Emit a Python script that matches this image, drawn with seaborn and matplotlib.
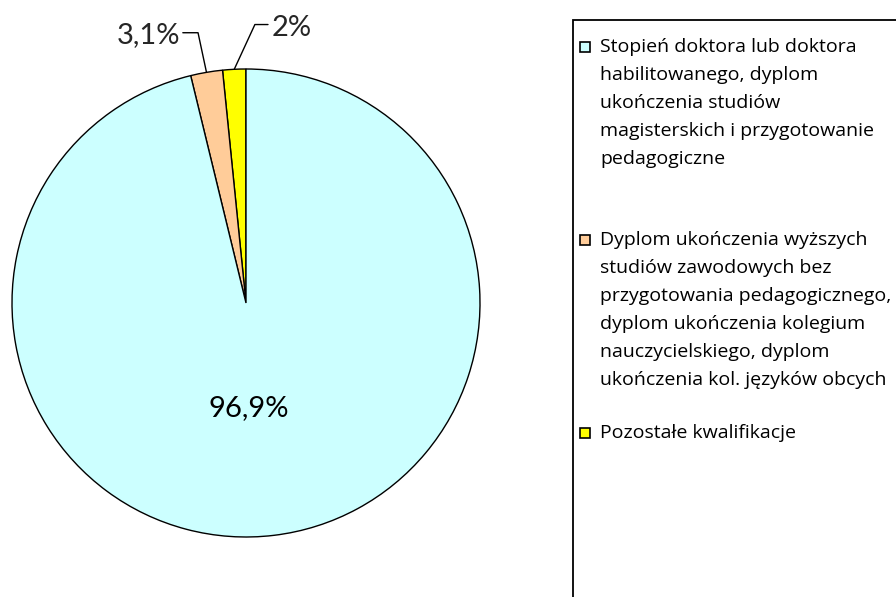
import numpy as np
import matplotlib
matplotlib.use("Agg")
import matplotlib.pyplot as plt
import seaborn as sns
from matplotlib.patches import Rectangle

# dane wykresu
categories = [
    "Stopień doktora lub doktora\nhabilitowanego, dyplom\nukończenia studiów\nmagisterskich i przygotowanie\npedagogiczne",
    "Dyplom ukończenia wyższych\nstudiów zawodowych bez\nprzygotowania pedagogicznego,\ndyplom ukończenia kolegium\nnauczycielskiego, dyplom\nukończenia kol. języków obcych",
    "Pozostałe kwalifikacje",
]
shares = [96.2, 2.2, 1.6]
value_labels = ["96,9%", "3,1%", "2%"]
colors = ["#CCFFFF", "#FFCC99", "#FFFF00"]

sns.set_theme(style="white")
plt.rcParams["font.family"] = ["Lato", "DejaVu Sans"]

W, H = 896, 597
fig = plt.figure(figsize=(W / 100, H / 100), dpi=100)
fig.patch.set_facecolor("white")

# koło: środek (246, 303), promień 234 px
cx, cy, r = 246, 303, 234
ax = fig.add_axes([(cx - r) / W, (H - cy - r) / H, 2 * r / W, 2 * r / H])

# wycinki rysowane przeciwnie do zegara od godziny 12: żółty, pomarańczowy, błękitny
wedges, _ = ax.pie(shares[::-1], colors=colors[::-1], startangle=90,
                   counterclock=True, radius=1,
                   wedgeprops=dict(edgecolor="black", linewidth=1.0))
wedges = wedges[::-1]
ax.set_xlim(-1, 1)
ax.set_ylim(-1, 1)
ax.axis("off")


def anchor(w):
    a = np.deg2rad((w.theta1 + w.theta2) / 2)
    return np.cos(a), np.sin(a)


lab_size = 21
ax.text(0.013, -0.45, value_labels[0], ha="center", va="center", fontsize=lab_size, color="black")

# etykieta 3,1% z linią odniesienia
x0, y0 = anchor(wedges[1])
ax.plot([x0, -0.205, -0.27], [y0, 1.155, 1.155], color="black", lw=1.0, clip_on=False)
ax.text(-0.28, 1.145, value_labels[1], ha="right", va="center", fontsize=lab_size)

# etykieta 2%
x0, y0 = anchor(wedges[2])
ax.plot([x0, 0.038, 0.094], [y0, 1.19, 1.19], color="black", lw=1.0, clip_on=False)
ax.text(0.108, 1.175, value_labels[2], ha="left", va="center", fontsize=lab_size)

# legenda rysowana ręcznie w ramce
fig.patches.append(Rectangle((573 / W, -0.05), 0.5, 1.05 - 20 / H, transform=fig.transFigure,
                             fill=False, edgecolor="black", linewidth=1.3))
entry_y = [47, 240, 433]
for lab, col, y in zip(categories, colors, entry_y):
    fig.patches.append(Rectangle((580 / W, 1 - (y + 5) / H), 10 / W, 10 / H,
                                 transform=fig.transFigure, facecolor=col,
                                 edgecolor="black", linewidth=1.2))
    fig.text(600 / W, 1 - (y - 9) / H, lab, ha="left", va="top",
             fontsize=14, linespacing=1.71, color="black", family=["Open Sans", "DejaVu Sans"])

fig.savefig("out.png", dpi=100)
